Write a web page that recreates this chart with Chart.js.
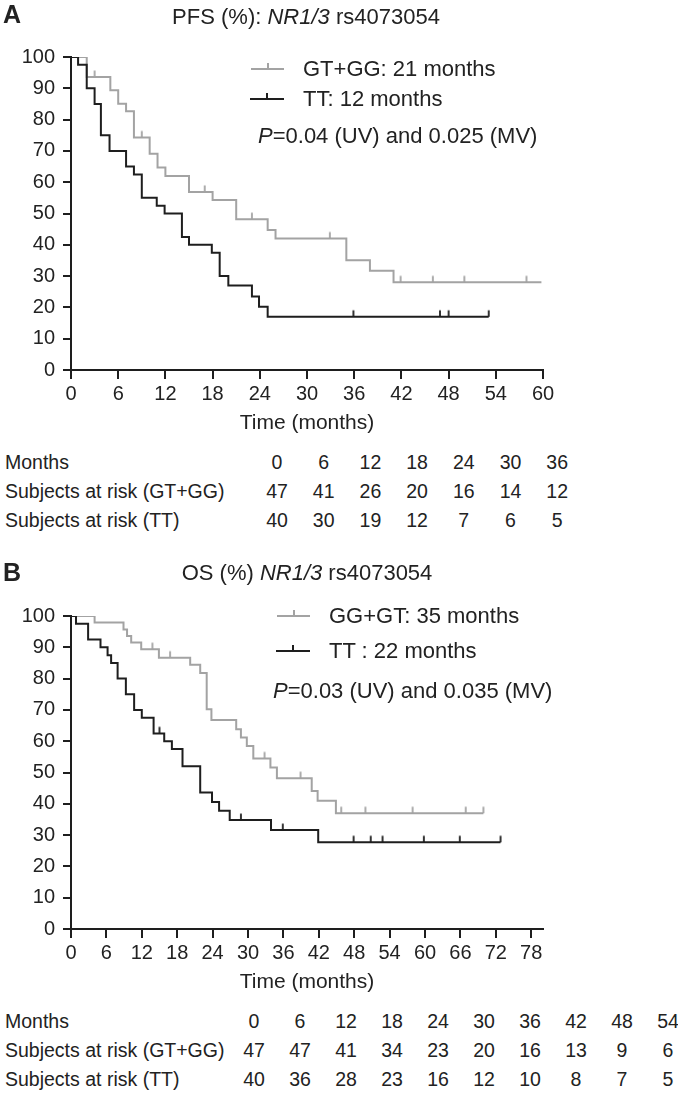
<!DOCTYPE html>
<html>
<head>
<meta charset="utf-8">
<script src="https://cdn.jsdelivr.net/npm/chart.js@4.4.1/dist/chart.umd.min.js"></script>
<style>
  body { margin: 0; background: #fff; }
  #page { position: relative; width: 678px; height: 1095px; font-family: "Liberation Sans", Arial, sans-serif; color: #222; }
  canvas { position: absolute; left: 0; }
  .txt { position: absolute; white-space: nowrap; transform: translateY(-50%); line-height: 1; }
  .letter { font-weight: bold; font-size: 25px; }
  .big { font-size: 22px; }
  .tab { font-size: 19.5px; }
  .legline { position: absolute; height: 2px; }
  .legtick { position: absolute; width: 2px; height: 6px; }
</style>
</head>
<body>
<div id="page">
  <canvas id="pfsChart" width="678" height="440" style="top:0px"></canvas>
  <canvas id="osChart" width="678" height="440" style="top:559px"></canvas>
</div>
<script>
// PFS, panel A
var pfsGTTimes = [0, 2, 5, 6, 7, 8, 10, 11, 12, 15, 18, 21, 25, 26, 35, 38, 41, 59.8];
var pfsGTSurv  = [100, 93.6, 89.4, 85.1, 82.7, 74.3, 69.1, 64.7, 62.0, 56.9, 54.3, 48.2, 44.7, 42.0, 35.1, 31.7, 28.0, 28.0];
var pfsGTCens  = [3, 9, 17, 23, 32.9, 41.9, 46, 50, 57.9];
var pfsTTTimes = [0, 0.9, 2, 3, 3.8, 4.9, 7, 8, 9, 10.9, 11.9, 14.1, 15, 17.9, 18.9, 20, 23, 23.9, 25, 53.1];
var pfsTTSurv  = [100, 97.5, 90, 85, 75, 70, 65, 62.5, 55, 52.5, 50, 42.5, 40, 37.5, 30, 27, 23.5, 20.2, 17, 17];
var pfsTTCens  = [35.9, 46.9, 48, 53.1];

// OS, panel B
var osGTTimes = [0, 4, 8.9, 9.5, 10.2, 11.9, 14.9, 20.2, 21.9, 23, 23.8, 28, 28.8, 29.8, 30.9, 33.8, 34.9, 40.8, 41.8, 44.9, 69.9];
var osGTSurv  = [100, 97.9, 95.7, 93.6, 91.5, 89.4, 86.7, 84.4, 81.8, 70.2, 66.8, 63.8, 61.2, 58.5, 54.5, 51.6, 48.2, 44.1, 41.0, 37.0, 37.0];
var osGTCens  = [13.8, 16.8, 32.8, 38.9, 45.8, 49.9, 57.9, 66.9, 69.9];
var osTTTimes = [0, 0.85, 2.9, 5, 6.2, 6.8, 7.9, 9.3, 10.7, 12, 14, 15.8, 17.1, 18.9, 21.9, 23.9, 25.1, 26.9, 33.9, 41.9, 72.8];
var osTTSurv  = [100, 97.5, 92.5, 90, 87.5, 85, 80, 75, 70, 67.5, 62.5, 60, 57.5, 52, 43.6, 40.6, 37.8, 34.8, 31.6, 27.7, 27.7];
var osTTCens  = [15, 28.8, 35.9, 47.9, 50.8, 52.8, 59.8, 65.9, 72.8];

var pfsXTicks = [0, 6, 12, 18, 24, 30, 36, 42, 48, 54, 60];
var osXTicks  = [0, 6, 12, 18, 24, 30, 36, 42, 48, 54, 60, 66, 72, 78];

// tables of subjects at risk
var pfsMonths = [0, 6, 12, 18, 24, 30, 36];
var pfsRiskGT = [47, 41, 26, 20, 16, 14, 12];
var pfsRiskTT = [40, 30, 19, 12, 7, 6, 5];
var osMonths  = [0, 6, 12, 18, 24, 30, 36, 42, 48, 54];
var osRiskGT  = [47, 47, 41, 34, 23, 20, 16, 13, 9, 6];
var osRiskTT  = [40, 36, 28, 23, 16, 12, 10, 8, 7, 5];

var GREY = '#a3a3a3';
var BLACK = '#1e1e1e';

Chart.defaults.font.family = '"Liberation Sans", Arial, sans-serif';
Chart.defaults.color = '#222';

//petit trait vertical pour les censures
function makeTick(color){
  var c = document.createElement('canvas');
  c.width = 4; c.height = 16;
  var ctx = c.getContext('2d');
  ctx.strokeStyle = color;
  ctx.lineWidth = 1.8;
  ctx.beginPath();
  ctx.moveTo(2, 1.5);
  ctx.lineTo(2, 8);
  ctx.stroke();
  return c;
}

function toPoints(times, surv){
  var pts = [];
  for (var i = 0; i < times.length; i++) pts.push({x: times[i], y: surv[i]});
  return pts;
}

//valeur de la courbe au moment d'une censure
function censPoints(times, surv, cens){
  var pts = [];
  for (var j = 0; j < cens.length; j++){
    var v = surv[0];
    for (var i = 0; i < times.length; i++){
      if (times[i] <= cens[j]) v = surv[i];
    }
    pts.push({x: cens[j], y: v});
  }
  return pts;
}

function curve(pts, color, order){
  return { data: pts, showLine: true, stepped: true, borderColor: color, borderWidth: 2,
    pointRadius: 0, fill: false, order: order };
}
function marks(pts, color, order){
  return { data: pts, showLine: false, pointStyle: makeTick(color), pointRadius: 3,
    borderColor: color, backgroundColor: color, order: order };
}

function createKM(id, datasets, xMax, xTicks){
  return new Chart(document.getElementById(id), {
    type: 'scatter',
    data: { datasets: datasets },
    options: {
      responsive: false,
      animation: false,
      layout: { padding: { left: 11, top: 57, right: 135, bottom: 0 } },
      plugins: { legend: { display: false }, tooltip: { enabled: false } },
      scales: {
        x: {
          type: 'linear', min: 0, max: xMax,
          afterBuildTicks: function(s){ s.ticks = xTicks.map(function(v){ return {value: v}; }); },
          afterFit: function(s){ s.height = 70; },
          grid: { drawOnChartArea: false, drawTicks: true, tickLength: 9, color: BLACK, lineWidth: 2 },
          border: { display: true, color: BLACK, width: 2 },
          ticks: { font: { size: 20 }, padding: 3, maxRotation: 0, autoSkip: false },
          title: { display: true, text: 'Time (months)', font: { size: 21 }, padding: { top: 0 } }
        },
        y: {
          min: 0, max: 100,
          ticks: { stepSize: 10, font: { size: 20 }, padding: 8 },
          afterFit: function(s){ s.width = 60; },
          grid: { drawOnChartArea: false, drawTicks: true, tickLength: 8, color: BLACK, lineWidth: 2 },
          border: { display: true, color: BLACK, width: 2 }
        }
      }
    }
  });
}

createKM('pfsChart', [
  curve(toPoints(pfsGTTimes, pfsGTSurv), GREY, 4),
  marks(censPoints(pfsGTTimes, pfsGTSurv, pfsGTCens), GREY, 3),
  curve(toPoints(pfsTTTimes, pfsTTSurv), BLACK, 2),
  marks(censPoints(pfsTTTimes, pfsTTSurv, pfsTTCens), BLACK, 1)
], 60, pfsXTicks);

createKM('osChart', [
  curve(toPoints(osGTTimes, osGTSurv), GREY, 4),
  marks(censPoints(osGTTimes, osGTSurv, osGTCens), GREY, 3),
  curve(toPoints(osTTTimes, osTTSurv), BLACK, 2),
  marks(censPoints(osTTTimes, osTTSurv, osTTCens), BLACK, 1)
], 80, osXTicks);

// textes, legendes et tableaux en HTML
var page = document.getElementById('page');

function addText(html, cls, x, y, center){
  var d = document.createElement('div');
  d.className = 'txt ' + cls;
  d.innerHTML = html;
  d.style.left = x + 'px';
  d.style.top = y + 'px';
  if (center) d.style.transform = 'translate(-50%, -50%)';
  page.appendChild(d);
}

function addLegLine(x, y, w, color){
  var l = document.createElement('div');
  l.className = 'legline';
  l.style.left = x + 'px'; l.style.top = (y - 1) + 'px'; l.style.width = w + 'px'; l.style.background = color;
  page.appendChild(l);
  var t = document.createElement('div');
  t.className = 'legtick';
  t.style.left = (x + w / 2 - 1) + 'px'; t.style.top = (y - 6) + 'px'; t.style.background = color;
  page.appendChild(t);
}

function addTable(top, x0, dx, rows){
  for (var r = 0; r < rows.length; r++){
    var y = top + r * 29;
    addText(rows[r].label, 'tab', 5, y, false);
    for (var i = 0; i < rows[r].values.length; i++){
      addText(String(rows[r].values[i]), 'tab', x0 + i * dx, y, true);
    }
  }
}

// panel A
addText('A', 'letter', 3, 14, false);
addText('PFS (%): <i>NR1/3</i> rs4073054', 'big', 306, 17, true);
addLegLine(251, 69, 33, GREY);
addText('GT+GG: 21 months', 'big', 303, 69, false);
addLegLine(250, 99, 34, BLACK);
addText('TT: 12 months', 'big', 303, 99, false);
addText('<i>P</i>=0.04 (UV) and 0.025 (MV)', 'big', 258, 136, false);
addTable(463, 277, 46.7, [
  { label: 'Months', values: pfsMonths },
  { label: 'Subjects at risk (GT+GG)', values: pfsRiskGT },
  { label: 'Subjects at risk (TT)', values: pfsRiskTT }
]);

// panel B
addText('B', 'letter', 3, 572, false);
addText('OS (%) <i>NR1/3</i> rs4073054', 'big', 307, 573, true);
addLegLine(277, 616, 33, GREY);
addText('GG+GT: 35 months', 'big', 329, 616, false);
addLegLine(276, 651, 34, BLACK);
addText('TT : 22 months', 'big', 329, 651, false);
addText('<i>P</i>=0.03 (UV) and 0.035 (MV)', 'big', 273, 691, false);
addTable(1022, 254, 46, [
  { label: 'Months', values: osMonths },
  { label: 'Subjects at risk (GT+GG)', values: osRiskGT },
  { label: 'Subjects at risk (TT)', values: osRiskTT }
]);
</script>
</body>
</html>
